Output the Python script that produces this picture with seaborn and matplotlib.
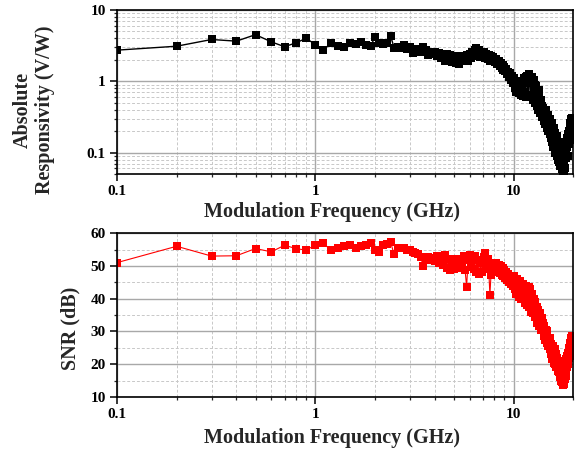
import matplotlib
matplotlib.use("Agg")
import matplotlib.pyplot as plt
import matplotlib.ticker as mticker
import numpy as np
import pandas as pd
import seaborn as sns

# modulation frequency grid, 0.1 GHz steps up to 20 GHz
freq_ghz = np.round(np.arange(1, 201) * 0.1, 1)

# absolute responsivity (V/W)
responsivity = [
    2.73, 3.1, 3.85, 3.65, 4.5, 3.57, 3.05, 3.46, 4.0, 3.27,
    2.73, 3.46, 3.1, 3.05, 3.39, 3.35, 3.54, 3.18, 3.1, 4.15,
    3.39, 3.3, 3.4, 4.28, 2.95, 3.0, 2.95, 3.18, 2.86, 3.05,
    2.5, 2.75, 2.85, 2.55, 3.05, 2.7, 2.35, 2.6, 2.4, 2.55,
    2.25, 2.5, 2.15, 2.4, 1.95, 2.45, 2.1, 2.3, 1.85, 2.25,
    1.8, 2.1, 1.75, 2.0, 2.25, 1.9, 2.05, 2.35, 1.95, 2.45,
    2.15, 2.55, 2.25, 2.7, 2.95, 2.4, 2.75, 2.2, 2.6, 2.3,
    2.55, 2.15, 2.45, 2.05, 2.35, 1.95, 2.25, 1.9, 2.2, 2.0,
    1.85, 2.05, 1.75, 1.95, 1.65, 1.8, 1.55, 1.7, 1.45, 1.6,
    1.4, 1.5, 1.25, 1.35, 1.15, 1.3, 1.05, 1.2, 0.95, 1.1,
    1.05, 0.8, 0.7, 1.0, 0.95, 0.68, 0.75, 0.9, 0.65, 0.85,
    0.62, 0.95, 1.1, 0.7, 0.6, 1.15, 1.2, 0.65, 0.62, 1.25,
    1.1, 0.6, 0.95, 1.15, 0.55, 0.62, 1.05, 0.9, 0.5, 0.85,
    0.7, 0.45, 0.4, 0.75, 0.6, 0.36, 0.55, 0.5, 0.32, 0.45,
    0.42, 0.28, 0.38, 0.25, 0.35, 0.4, 0.22, 0.3, 0.2, 0.34,
    0.27, 0.18, 0.3, 0.16, 0.24, 0.14, 0.26, 0.2, 0.12, 0.22,
    0.19, 0.1, 0.16, 0.12, 0.09, 0.17, 0.14, 0.08, 0.13, 0.075,
    0.12, 0.065, 0.1, 0.07, 0.058, 0.095, 0.085, 0.052, 0.07, 0.05,
    0.06, 0.11, 0.085, 0.14, 0.1, 0.16, 0.12, 0.09, 0.18, 0.13,
    0.2, 0.15, 0.26, 0.18, 0.3, 0.22, 0.31, 0.16, 0.28, 0.2,
]

# signal to noise ratio (dB)
snr_db = [
    51.0, 56.0, 53.0, 53.1, 55.3, 54.3, 56.3, 55.3, 54.8, 56.4,
    56.9, 54.8, 55.5, 56.1, 56.3, 55.6, 56.0, 56.3, 56.9, 54.8,
    54.1, 56.3, 56.6, 57.2, 53.5, 55.4, 55.6, 55.4, 54.8, 55.0,
    54.3, 53.8, 53.5, 52.8, 50.0, 52.3, 52.8, 51.8, 52.3, 51.5,
    53.0, 50.8, 52.6, 50.2, 53.2, 49.3, 52.0, 48.6, 51.5, 49.0,
    50.5, 52.2, 49.3, 51.2, 49.8, 53.0, 48.6, 43.6, 51.7, 53.2,
    49.8, 52.2, 49.2, 53.0, 48.0, 51.7, 47.4, 50.8, 48.0, 51.5,
    52.6, 53.8, 50.5, 52.0, 49.0, 41.1, 47.3, 50.5, 48.0, 51.0,
    49.5, 50.8, 48.2, 50.4, 47.8, 50.0, 47.3, 49.4, 46.8, 48.6,
    46.2, 48.2, 45.6, 47.6, 45.0, 47.0, 44.4, 46.4, 43.8, 45.8,
    47.0, 43.0, 41.5, 46.0, 44.5, 40.5, 42.0, 45.5, 39.8, 44.0,
    40.0, 44.5, 43.0, 38.8, 41.5, 44.0, 38.2, 39.5, 43.5, 37.5,
    43.0, 36.0, 40.5, 41.5, 35.5, 37.0, 40.0, 34.5, 39.0, 36.0,
    37.5, 32.5, 36.5, 34.0, 31.5, 35.5, 33.0, 30.5, 34.0, 31.5,
    32.5, 28.5, 31.5, 27.5, 30.5, 29.5, 26.5, 30.0, 25.5, 28.0,
    27.0, 24.5, 28.0, 23.0, 26.0, 24.5, 21.5, 25.5, 22.5, 20.5,
    24.5, 20.0, 23.0, 19.0, 22.0, 20.5, 18.0, 21.0, 17.5, 19.5,
    18.5, 16.0, 19.0, 15.0, 17.0, 14.5, 16.0, 13.5, 17.5, 14.0,
    15.5, 19.0, 17.0, 21.5, 16.5, 22.5, 19.0, 23.5, 20.0, 25.0,
    22.0, 26.5, 23.5, 28.0, 24.0, 27.0, 25.5, 28.5, 22.5, 26.0,
]

x_ticks = [0.1, 1, 10]
df = pd.DataFrame({"freq": freq_ghz, "resp": responsivity, "snr": snr_db})

sns.set_theme(style="ticks")
plt.rcParams["font.family"] = ["Liberation Serif", "DejaVu Serif"]
plt.rcParams["font.weight"] = "bold"
plt.rcParams["axes.labelweight"] = "bold"

fig = plt.figure(figsize=(5.79, 4.51), dpi=100)
ax1 = fig.add_axes([0.202, 0.614, 0.788, 0.364])
ax2 = fig.add_axes([0.202, 0.120, 0.788, 0.363])


def style_axis(ax, label_y):
    ax.set_xscale("log")
    ax.set_xlim(0.1, 20)
    ax.xaxis.set_major_locator(mticker.FixedLocator(x_ticks))
    ax.xaxis.set_major_formatter(mticker.FuncFormatter(lambda v, p: f"{v:g}"))
    ax.xaxis.set_minor_locator(mticker.LogLocator(base=10, subs=np.arange(2, 10), numticks=20))
    ax.xaxis.set_minor_formatter(mticker.NullFormatter())
    ax.grid(True, which="major", color="#a8a8a8", linewidth=1.0, linestyle="-")
    ax.grid(True, which="minor", color="#c8c8c8", linewidth=0.7, linestyle=(0, (3, 2)))
    ax.set_axisbelow(True)
    ax.tick_params(which="major", direction="out", length=5, width=1.1, labelsize=11, pad=3, colors="black")
    ax.tick_params(which="minor", direction="out", length=2.5, width=0.9)
    for s in ax.spines.values():
        s.set_linewidth(1.2)
        s.set_color("black")
    ax.set_xlabel("Modulation Frequency (GHz)", fontsize=14.5)
    ax.xaxis.set_label_coords(0.471, label_y)


# top panel: responsivity
sns.lineplot(data=df, x="freq", y="resp", ax=ax1, color="black", marker="s",
             markersize=5.5, markeredgewidth=0, linewidth=1.0, sort=False)
style_axis(ax1, -0.17)
ax1.set_yscale("log")
ax1.set_ylim(0.05, 10)
ax1.yaxis.set_major_locator(mticker.FixedLocator([0.1, 1, 10]))
ax1.yaxis.set_major_formatter(mticker.FuncFormatter(lambda v, p: f"{v:g}"))
ax1.yaxis.set_minor_locator(mticker.LogLocator(base=10, subs=np.arange(2, 10), numticks=20))
ax1.yaxis.set_minor_formatter(mticker.NullFormatter())
ax1.set_ylabel("Absolute\nResponsivity (V/W)", fontsize=14.5)
ax1.yaxis.set_label_coords(-0.135, 0.39)

# bottom panel: SNR
sns.lineplot(data=df, x="freq", y="snr", ax=ax2, color="#ff0000", marker="s",
             markersize=6, markeredgewidth=0, linewidth=0.8, sort=False)
style_axis(ax2, -0.19)
ax2.set_ylim(10, 60)
ax2.yaxis.set_major_locator(mticker.MultipleLocator(10))
ax2.yaxis.set_minor_locator(mticker.MultipleLocator(5))
ax2.set_ylabel("SNR (dB)", fontsize=14.5)
ax2.yaxis.set_label_coords(-0.081, 0.42)

fig.savefig("out.png", dpi=100)
